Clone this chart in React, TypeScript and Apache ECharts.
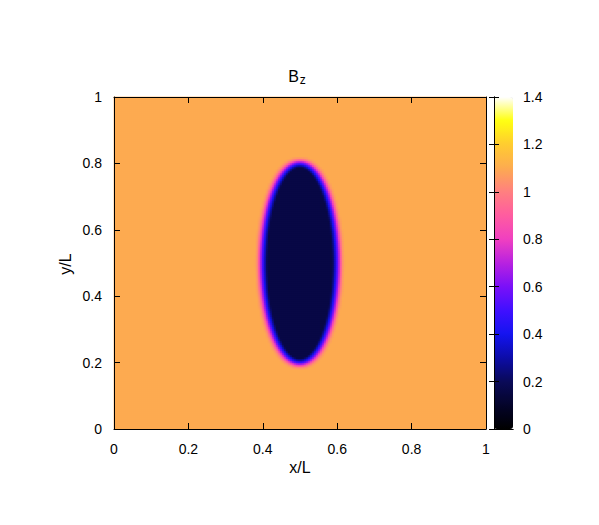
import React, { useEffect, useRef } from "react";
import * as echarts from "echarts";

// ---- data ----
const X_TICKS = [0, 0.2, 0.4, 0.6, 0.8, 1];
const Y_TICKS = [0, 0.2, 0.4, 0.6, 0.8, 1];
const CB_TICKS = [0, 0.2, 0.4, 0.6, 0.8, 1, 1.2, 1.4];
const N_X = 186;
const N_Y = 166;
// ellipse (region of low field)
const ELLIPSE_CENTER = [0.5, 0.5];
const ELLIPSE_SEMI_AXES = [0.1, 0.3];
// field value vs. signed distance to the ellipse edge (in units of L)
const RIM_DIST = [-0.013, -0.007, -0.002, 0.003, 0.008, 0.012, 0.016, 0.022];
const RIM_VALUE = [0.16, 0.3, 0.45, 0.62, 0.8, 0.95, 1.05, 1.1];
const INTERIOR_VALUE = 0.16;
const BACKGROUND_VALUE = 1.1;
const CB_MIN = 0;
const CB_MAX = 1.4;
const PALETTE = [
  "#000000", "#04042a", "#0a0a58", "#0c0ca8", "#1414f0", "#4010ff", "#7a10f8",
  "#b822e0", "#f040c0", "#ff5ca0", "#ff7f80", "#fdab50", "#ffcc30", "#ffff10", "#ffffff",
];

function rimValue(d: number): number {
  if (d <= RIM_DIST[0]) return RIM_VALUE[0];
  const n = RIM_DIST.length;
  if (d >= RIM_DIST[n - 1]) return RIM_VALUE[n - 1];
  for (let k = 0; k < n - 1; k++) {
    if (d <= RIM_DIST[k + 1]) {
      const t = (d - RIM_DIST[k]) / (RIM_DIST[k + 1] - RIM_DIST[k]);
      return RIM_VALUE[k] + t * (RIM_VALUE[k + 1] - RIM_VALUE[k]);
    }
  }
  return BACKGROUND_VALUE;
}

function buildCells(): number[][] {
  const out: number[][] = [];
  const [cx, cy] = ELLIPSE_CENTER;
  const [a, b] = ELLIPSE_SEMI_AXES;
  for (let j = 0; j < N_Y; j++) {
    const y = (j + 0.5) / N_Y;
    for (let i = 0; i < N_X; i++) {
      const x = (i + 0.5) / N_X;
      const dx = x - cx;
      const dy = y - cy;
      const r = Math.sqrt((dx / a) ** 2 + (dy / b) ** 2);
      let v: number;
      if (r < 0.5) v = INTERIOR_VALUE;
      else {
        const g = Math.sqrt((dx / (a * a)) ** 2 + (dy / (b * b)) ** 2) / r;
        const d = (r - 1) / g;
        v = rimValue(d);
      }
      out.push([i, j, v]);
    }
  }
  return out;
}

const FONT = "'Liberation Sans', Arial, Helvetica, sans-serif";

export default function App() {
  const ref = useRef<HTMLDivElement>(null);
  useEffect(() => {
    document.body.style.margin = "0";
    const chart = echarts.init(ref.current!, null, { renderer: "svg" });
    const catX = Array.from({ length: N_X }, (_, i) => String(i));
    const catY = Array.from({ length: N_Y }, (_, i) => String(i));
    const lineStyle = { color: "#000", width: 1 };
    const tickIn = (len: number) => ({ show: true, inside: true, length: len, lineStyle });
    const lbl = { color: "#000", fontSize: 14, fontFamily: FONT };
    chart.setOption({
      animation: false,
      backgroundColor: "#ffffff",
      grid: [
        { left: 114, top: 97, width: 372, height: 332, show: false },
        { left: 494, top: 97, width: 19, height: 332, show: false },
      ],
      xAxis: [
        { type: "category", gridIndex: 0, data: catX, show: false },
        {
          type: "value", gridIndex: 0, position: "bottom", min: 0, max: 1, interval: 0.2, z: 10,
          axisLine: { show: true, lineStyle }, axisTick: tickIn(6), splitLine: { show: false },
          axisLabel: { ...lbl, margin: 13, formatter: (v: number) => (X_TICKS.includes(+v.toFixed(1)) ? String(+v.toFixed(1)) : "") },
        },
        {
          type: "value", gridIndex: 0, position: "top", min: 0, max: 1, interval: 0.2, z: 10,
          axisLine: { show: true, lineStyle }, axisTick: tickIn(6), splitLine: { show: false }, axisLabel: { show: false },
        },
        {
          type: "value", gridIndex: 1, position: "bottom", min: 0, max: 1, z: 10,
          axisLine: { show: true, lineStyle }, axisTick: { show: false }, splitLine: { show: false }, axisLabel: { show: false },
        },
        {
          type: "value", gridIndex: 1, position: "top", min: 0, max: 1, z: 10,
          axisLine: { show: true, lineStyle }, axisTick: { show: false }, splitLine: { show: false }, axisLabel: { show: false },
        },
      ],
      yAxis: [
        { type: "category", gridIndex: 0, data: catY, show: false },
        {
          type: "value", gridIndex: 0, position: "left", min: 0, max: 1, interval: 0.2, z: 10,
          axisLine: { show: true, lineStyle }, axisTick: tickIn(6), splitLine: { show: false },
          axisLabel: { ...lbl, margin: 12, formatter: (v: number) => (Y_TICKS.includes(+v.toFixed(1)) ? String(+v.toFixed(1)) : "") },
        },
        {
          type: "value", gridIndex: 0, position: "right", min: 0, max: 1, interval: 0.2, z: 10,
          axisLine: { show: true, lineStyle }, axisTick: tickIn(6), splitLine: { show: false }, axisLabel: { show: false },
        },
        {
          type: "value", gridIndex: 1, position: "left", min: CB_MIN, max: CB_MAX, interval: 0.2, z: 10,
          axisLine: { show: true, lineStyle }, axisTick: tickIn(5), splitLine: { show: false }, axisLabel: { show: false },
        },
        {
          type: "value", gridIndex: 1, position: "right", min: CB_MIN, max: CB_MAX, interval: 0.2, z: 10,
          axisLine: { show: true, lineStyle }, axisTick: tickIn(5), splitLine: { show: false },
          axisLabel: { ...lbl, margin: 10, formatter: (v: number) => {
            const r = +v.toFixed(1);
            return CB_TICKS.includes(r) ? String(r) : "";
          } },
        },
      ],
      visualMap: {
        type: "continuous",
        min: CB_MIN,
        max: CB_MAX,
        seriesIndex: 0,
        orient: "vertical",
        left: 494,
        top: 97,
        itemWidth: 19,
        itemHeight: 332,
        padding: 0,
        calculable: false,
        hoverLink: false,
        showLabel: false,
        text: null,
        inRange: { color: PALETTE },
      },
      graphic: [
        {
          type: "text", x: 297, y: 76, z: 20,
          style: {
            text: "{b|B}{s|z}", align: "center", verticalAlign: "middle",
            rich: {
              b: { fontSize: 16, fontFamily: FONT, fill: "#000", lineHeight: 18 },
              s: { fontSize: 12, fontFamily: FONT, fill: "#000", padding: [8, 0, 0, 1] },
            },
          },
        },
        {
          type: "text", x: 300, y: 467, z: 20,
          style: { text: "x/L", align: "center", verticalAlign: "middle", fontSize: 16, fontFamily: FONT, fill: "#000" },
        },
        {
          type: "text", x: 65, y: 264, rotation: Math.PI / 2, z: 20,
          style: { text: "y/L", align: "center", verticalAlign: "middle", fontSize: 16, fontFamily: FONT, fill: "#000" },
        },
      ],
      series: [
        {
          type: "heatmap",
          xAxisIndex: 0,
          yAxisIndex: 0,
          data: buildCells(),
          progressive: 0,
          emphasis: { disabled: true },
          silent: true,
          z: 1,
        },
      ],
    });
    return () => chart.dispose();
  }, []);
  return <div ref={ref} style={{ width: 599, height: 525 }} />;
}
